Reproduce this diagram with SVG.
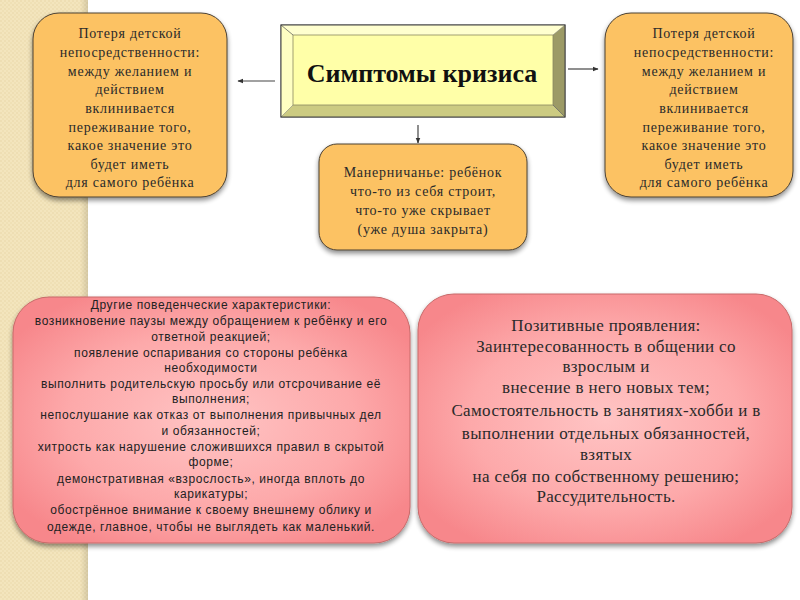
<svg xmlns="http://www.w3.org/2000/svg" width="800" height="600" viewBox="0 0 800 600">
<defs>
<pattern id="dots" width="4" height="4" patternUnits="userSpaceOnUse">
<rect width="4" height="4" fill="#f3e5bd"/>
<circle cx="1" cy="1" r="0.8" fill="#e8d7a6"/>
<circle cx="3" cy="3" r="0.8" fill="#eadbac"/>
</pattern>
<radialGradient id="pink" cx="50%" cy="50%" r="60%">
<stop offset="0" stop-color="#ffc4c4"/>
<stop offset="0.6" stop-color="#fda9aa"/>
<stop offset="1" stop-color="#f7878b"/>
</radialGradient>
<linearGradient id="stripeShade" x1="0" y1="0" x2="1" y2="0">
<stop offset="0" stop-color="#000" stop-opacity="0"/>
<stop offset="1" stop-color="#000" stop-opacity="0.12"/>
</linearGradient>
<filter id="sh" x="-10%" y="-10%" width="120%" height="125%">
<feGaussianBlur in="SourceAlpha" stdDeviation="2.5"/>
<feOffset dx="0" dy="3" result="b"/>
<feComponentTransfer><feFuncA type="linear" slope="0.45"/></feComponentTransfer>
<feMerge><feMergeNode/><feMergeNode in="SourceGraphic"/></feMerge>
</filter>
<marker id="ah" viewBox="0 0 10 10" refX="9" refY="5" markerWidth="5" markerHeight="5" orient="auto">
<path d="M0,1 L10,5 L0,9 z" fill="#333"/>
</marker>
</defs>
<style>
.orange{fill:#fcc264;stroke:#4a4033;stroke-width:1}
.pinkbox{fill:url(#pink);stroke:#c86a6a;stroke-width:1}
.ser{font-family:"Liberation Serif","Times New Roman",serif;fill:#2a2a2a;text-anchor:middle}
.t14{font-size:14px;letter-spacing:0.75px}
.t16{font-size:17px;letter-spacing:0.35px}
.sans{font-family:"Liberation Sans",Arial,sans-serif;font-size:12px;letter-spacing:0.6px;fill:#222;text-anchor:middle}
.conn{stroke:#444;stroke-width:1.2;fill:none;marker-end:url(#ah)}
</style>
<rect width="800" height="600" fill="#ffffff"/>
<rect x="0" y="0" width="88" height="600" fill="url(#dots)"/>
<rect x="80" y="0" width="8" height="600" fill="url(#stripeShade)"/>

<g id="connectors">
<line class="conn" x1="275" y1="81" x2="238" y2="81"/>
<line class="conn" x1="568" y1="69" x2="598" y2="69"/>
<line class="conn" x1="418" y1="125" x2="418" y2="143"/>
</g>

<g id="title">
<rect x="281" y="25" width="284" height="92" fill="#ffffa8" stroke="#555" stroke-width="1"/>
<polygon points="281,25 565,25 553,35 293,35" fill="#ffffcf"/>
<polygon points="281,25 293,35 293,105 281,117" fill="#ffffc2"/>
<polygon points="565,25 565,117 553,105 553,35" fill="#9c9a66"/>
<polygon points="281,117 565,117 553,105 293,105" fill="#cccb82"/>
<rect x="293" y="35" width="260" height="70" fill="#ffffa8" stroke="#8a8860" stroke-width="0.8"/>
<line x1="281" y1="25" x2="293" y2="35" stroke="#666" stroke-width="0.8"/>
<line x1="565" y1="117" x2="553" y2="105" stroke="#666" stroke-width="0.8"/>
<line x1="565" y1="25" x2="553" y2="35" stroke="#888" stroke-width="0.6"/>
<line x1="281" y1="117" x2="293" y2="105" stroke="#888" stroke-width="0.6"/>
<rect x="281" y="25" width="284" height="92" fill="none" stroke="#444" stroke-width="1"/>
<text x="422" y="82" font-family="Liberation Serif,Times New Roman,serif" font-weight="bold" font-size="26" fill="#111" text-anchor="middle">Симптомы кризиса</text>
</g>

<g id="left-top">
<rect class="orange" x="33" y="13" width="194" height="184" rx="26" filter="url(#sh)"/>
<text class="ser t14"><tspan x="130" y="38">Потеря детской</tspan><tspan x="130" y="57">непосредственности:</tspan><tspan x="130" y="75.5">между желанием и</tspan><tspan x="130" y="94">действием</tspan><tspan x="130" y="113">вклинивается</tspan><tspan x="130" y="131.5">переживание того,</tspan><tspan x="130" y="150">какое значение это</tspan><tspan x="130" y="168.5">будет иметь</tspan><tspan x="130" y="187">для самого ребёнка</tspan></text>
</g>

<g id="right-top">
<rect class="orange" x="605" y="13" width="188" height="184" rx="26" filter="url(#sh)"/>
<text class="ser t14"><tspan x="704" y="38">Потеря детской</tspan><tspan x="704" y="57">непосредственности:</tspan><tspan x="704" y="75.5">между желанием и</tspan><tspan x="704" y="94">действием</tspan><tspan x="704" y="113">вклинивается</tspan><tspan x="704" y="131.5">переживание того,</tspan><tspan x="704" y="150">какое значение это</tspan><tspan x="704" y="168.5">будет иметь</tspan><tspan x="704" y="187">для самого ребёнка</tspan></text>
</g>

<g id="middle">
<rect class="orange" x="319" y="144" width="208" height="106" rx="18" filter="url(#sh)"/>
<text class="ser t14"><tspan x="423" y="177">Манерничанье: ребёнок</tspan><tspan x="423" y="196">что-то из себя строит,</tspan><tspan x="423" y="215">что-то уже скрывает</tspan><tspan x="423" y="234">(уже душа закрыта)</tspan></text>
</g>

<g id="other">
<rect class="pinkbox" x="13" y="297" width="397" height="246" rx="36" filter="url(#sh)"/>
<text class="sans"><tspan x="211" y="309">Другие поведенческие характеристики:</tspan><tspan x="211" y="325">возникновение паузы между обращением к ребёнку и его</tspan><tspan x="211" y="341">ответной реакцией;</tspan><tspan x="211" y="357">появление оспаривания со стороны ребёнка</tspan><tspan x="211" y="372">необходимости</tspan><tspan x="211" y="388">выполнить родительскую просьбу или отсрочивание её</tspan><tspan x="211" y="403">выполнения;</tspan><tspan x="211" y="419">непослушание как отказ от выполнения привычных дел</tspan><tspan x="211" y="435">и обязанностей;</tspan><tspan x="211" y="451">хитрость как нарушение сложившихся правил в скрытой</tspan><tspan x="211" y="466">форме;</tspan><tspan x="211" y="483">демонстративная «взрослость», иногда вплоть до</tspan><tspan x="211" y="498">карикатуры;</tspan><tspan x="211" y="514">обострённое внимание к своему внешнему облику и</tspan><tspan x="211" y="531">одежде, главное, чтобы не выглядеть как маленький.</tspan></text>
</g>

<g id="positive">
<rect class="pinkbox" x="418" y="294" width="374" height="249" rx="36" filter="url(#sh)"/>
<text class="ser t16"><tspan x="606" y="331">Позитивные проявления:</tspan><tspan x="606" y="352">Заинтересованность в общении со</tspan><tspan x="606" y="372">взрослым и</tspan><tspan x="606" y="393">внесение в него новых тем;</tspan><tspan x="606" y="416">Самостоятельность в занятиях-хобби и в</tspan><tspan x="606" y="439">выполнении отдельных обязанностей,</tspan><tspan x="606" y="460">взятых</tspan><tspan x="606" y="482">на себя по собственному решению;</tspan><tspan x="606" y="502">Рассудительность.</tspan></text>
</g>
</svg>
